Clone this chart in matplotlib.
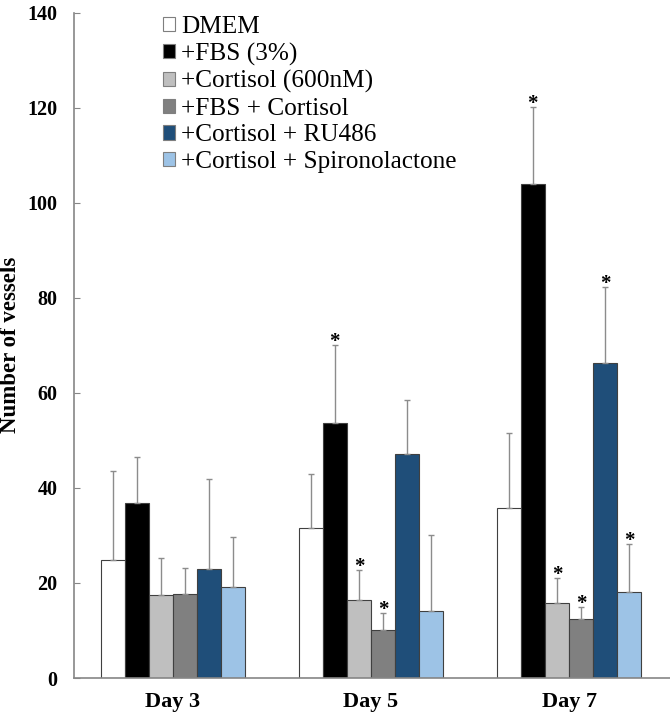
import numpy as np
import matplotlib
matplotlib.use("Agg")
from matplotlib import pyplot as plt
from matplotlib.patches import Patch

plt.rcParams['font.family'] = ['Liberation Serif', 'DejaVu Serif']

days = ["Day 3", "Day 5", "Day 7"]
groups = ["DMEM", "+FBS (3%)", "+Cortisol (600nM)", "+FBS + Cortisol",
          "+Cortisol + RU486", "+Cortisol + Spironolactone"]
colors = ["#FFFFFF", "#000000", "#BFBFBF", "#808080", "#1F4E79", "#9DC3E6"]

# media por grupo (Day 3, Day 5, Day 7)
dmem = [24.8, 31.6, 35.7]
fbs = [36.8, 53.6, 103.9]
cortisol = [17.5, 16.4, 15.7]
fbs_cort = [17.7, 10.2, 12.4]
ru486 = [23.0, 47.2, 66.3]
spiro = [19.1, 14.0, 18.1]

# desvio (so para cima)
dmem_err = [18.8, 11.3, 15.9]
fbs_err = [9.7, 16.4, 16.2]
cortisol_err = [7.8, 6.4, 5.3]
fbs_cort_err = [5.5, 3.5, 2.6]
ru486_err = [18.8, 11.3, 16.0]
spiro_err = [10.6, 16.0, 10.2]

# asteriscos de significancia
sig_dmem = [False, False, False]
sig_fbs = [False, True, True]
sig_cortisol = [False, True, True]
sig_fbs_cort = [False, True, True]
sig_ru486 = [False, False, True]
sig_spiro = [False, False, True]

means = [dmem, fbs, cortisol, fbs_cort, ru486, spiro]
errs = [dmem_err, fbs_err, cortisol_err, fbs_cort_err, ru486_err, spiro_err]
sigs = [sig_dmem, sig_fbs, sig_cortisol, sig_fbs_cort, sig_ru486, sig_spiro]

fig = plt.figure(figsize=(6.7, 7.19), dpi=100)
ax = fig.add_axes([74 / 670, 1 - 678 / 719, 1 - 74 / 670, (678 - 12.7) / 719])

x = np.arange(len(days))
w = 0.122
for j in range(len(groups)):
    pos = x + (j - 2.5) * w
    ax.bar(pos, means[j], w, color=colors[j], edgecolor="#404040", linewidth=0.8,
           yerr=[np.zeros(len(days)), errs[j]], ecolor="#8c8c8c",
           error_kw=dict(elinewidth=1.0, capsize=2.5, capthick=1.0), zorder=2)
    for i in range(len(days)):
        if sigs[j][i]:
            ax.annotate("*", (pos[i], means[j][i] + errs[j][i]), xytext=(0, -1.5),
                        textcoords="offset points", ha="center", va="baseline",
                        fontsize=15, fontweight="bold")

ax.set_xlim(-0.5, 2.51)
ax.set_ylim(0, 140)
ax.set_yticks(np.arange(0, 141, 20))
ax.set_xticks(x)
ax.set_xticklabels(days, fontsize=16, fontweight="bold")
ax.tick_params(axis="x", length=0, pad=10)
ax.tick_params(axis="y", direction="in", length=4, color="#868686", pad=12, labelsize=14.5)
for t in ax.get_yticklabels():
    t.set_fontweight("bold")
for s in ["top", "right"]:
    ax.spines[s].set_visible(False)
for s in ["left", "bottom"]:
    ax.spines[s].set_color("#868686")
    ax.spines[s].set_linewidth(1.2)

fig.text(11 / 670, 1 - 345 / 719, "Number of vessels", rotation=90, ha="center", va="center",
         fontsize=16.5, fontweight="bold")

handles = [Patch(facecolor=c, edgecolor="#7f7f7f", linewidth=0.8) for c in colors]
fig.legend(handles, groups, loc="upper left", bbox_to_anchor=(162.5 / 670, 1 - 16 / 719),
           frameon=False, fontsize=18.2, handlelength=0.5, handleheight=0.5,
           handletextpad=0.25, labelspacing=0.18, borderpad=0, borderaxespad=0)

plt.savefig("out.png", dpi=100)
